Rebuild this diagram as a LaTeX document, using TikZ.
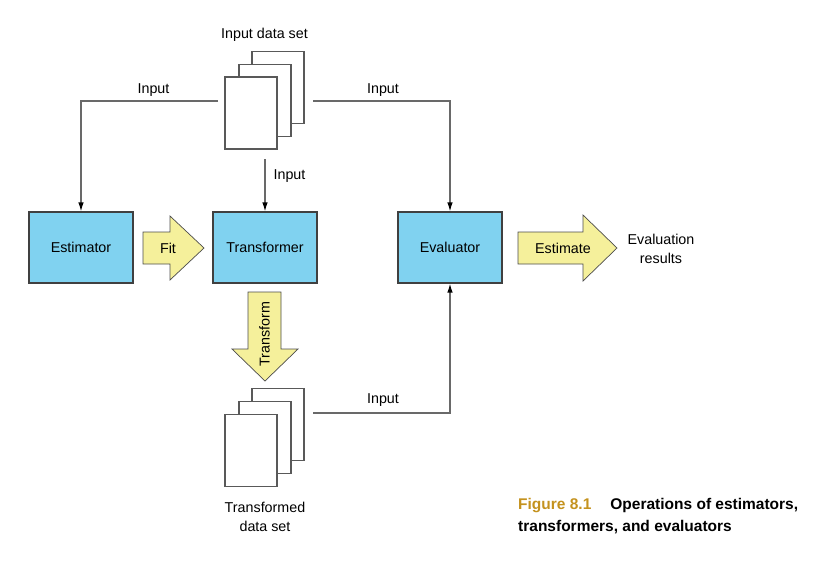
\documentclass[tikz,border=0pt]{standalone}
\usepackage{fontspec}
\setmainfont{Liberation Sans}
\usetikzlibrary{arrows.meta}
\definecolor{boxblue}{RGB}{128,210,240}
\definecolor{arrowyellow}{RGB}{245,240,155}
\definecolor{linegray}{RGB}{105,105,105}
\definecolor{figgold}{RGB}{196,146,30}
\tikzset{
  procbox/.style={draw=black!75, fill=boxblue, line width=1.1pt, minimum width=104pt, minimum height=71pt, inner sep=0pt, font=\fontsize{14.3}{16}\selectfont},
  page/.style={draw=black!65, fill=white, line width=1.2pt, minimum width=52pt, minimum height=72pt, inner sep=0pt},
  conn/.style={draw=linegray, line width=1.2pt, -{Latex[length=9pt,width=5.5pt,color=black]}},
  bigarrow/.style={draw=black!70, fill=arrowyellow, line width=0.7pt},
  lbl/.style={inner sep=0pt, font=\fontsize{14.3}{16}\selectfont},
  captext/.style={inner sep=0pt, anchor=west, font=\fontsize{15.5}{18}\selectfont\bfseries}
}
\begin{document}
\begin{tikzpicture}[x=1pt,y=-1pt]
\useasboundingbox (0,0) rectangle (831,574);
% top document stack
\node[page] (d1a) at (278,87.5) {};
\node[page] (d1b) at (265,100.5) {};
\node[page] (d1c) at (251,113) {};
\node[lbl] (tin) at (264.5,35) {Input data set};
% bottom document stack
\node[page] (d2a) at (278,424.5) {};
\node[page] (d2b) at (265,437.5) {};
\node[page] (d2c) at (251,450.5) {};
\node[lbl, align=center] (tout) at (265,516.5) {Transformed\\[3pt]data set};
% process boxes
\node[procbox] (est) at (81,247.5) {Estimator};
\node[procbox] (tra) at (265,247.5) {Transformer};
\node[procbox] (eva) at (450,247.5) {Evaluator};
% coordinates
\coordinate (l1) at (218,101);
\coordinate (r1) at (313,101);
\coordinate (m1) at (265,159);
\coordinate (b1) at (313,413);
% connectors
\draw[conn] (l1) -- (est.north |- l1) -- (est.north);
\draw[conn] (r1) -- (eva.north |- r1) -- (eva.north);
\draw[conn] (m1) -- (tra.north);
\draw[conn] (b1) -- (eva.south |- b1) -- (eva.south);
\node[lbl] (i1) at (153.5,90) {Input};
\node[lbl] (i2) at (383,90) {Input};
\node[lbl] (i3) at (289.5,176) {Input};
\node[lbl] (i4) at (383,400) {Input};
% block arrows
\filldraw[bigarrow] (143,232) -- (170,232) -- (170,216) -- (204,248) -- (170,280) -- (170,264) -- (143,264) -- cycle;
\node[lbl] (fit) at (168,248) {Fit};
\filldraw[bigarrow] (518,232) -- (583,232) -- (583,215) -- (617,248) -- (583,281) -- (583,264) -- (518,264) -- cycle;
\node[lbl] (estim) at (563,248) {Estimate};
\filldraw[bigarrow] (248,292) -- (281,292) -- (281,349) -- (298,349) -- (265,381) -- (232,349) -- (248,349) -- cycle;
\node[lbl, rotate=90] (trf) at (264.5,334) {Transform};
\node[lbl, align=center] (res) at (661,248.5) {Evaluation\\[3pt]results};
% caption
\node[captext] (c1) at (518,506) {\textcolor{figgold}{Figure 8.1}\hspace{19pt}Operations of estimators,};
\node[captext] (c2) at (518,527) {transformers, and evaluators};
\end{tikzpicture}
\end{document}
